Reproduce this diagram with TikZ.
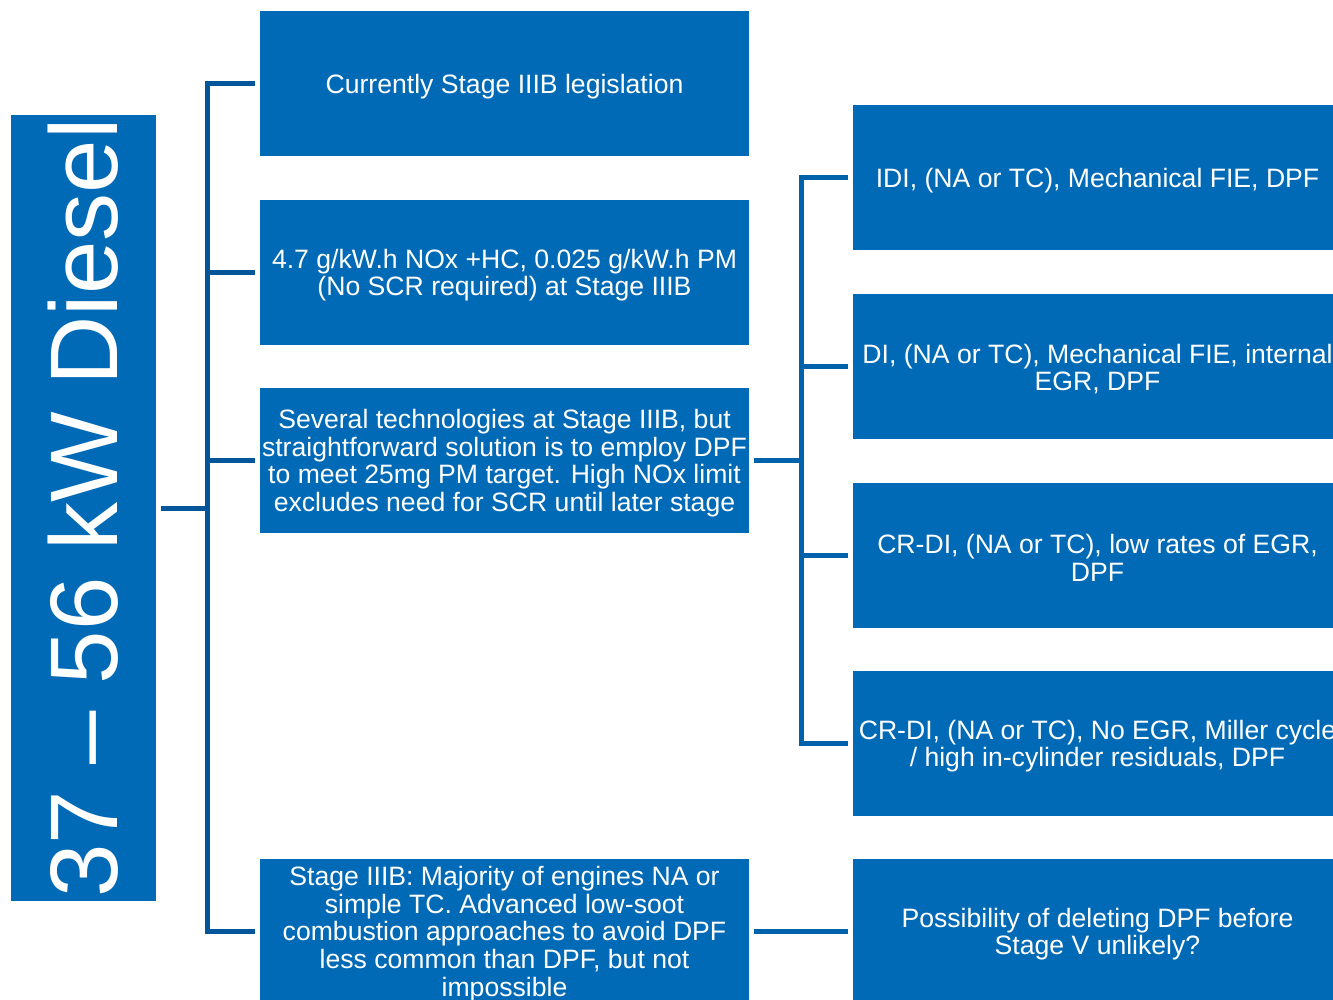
\documentclass[tikz,border=0pt]{standalone}
\usepackage{fontspec}
\setmainfont{Liberation Sans}
\definecolor{boxblue}{RGB}{0,106,182}
\definecolor{lineL}{RGB}{0,86,152}
\definecolor{lineR}{RGB}{0,98,170}
\tikzset{
  bluebox/.style={fill=boxblue, draw=none, minimum width=489pt, minimum height=145pt, inner sep=0pt},
  boxtext/.style={text=white, align=center, inner sep=0pt, font=\fontsize{26.6pt}{27.7pt}\selectfont},
  titlebox/.style={fill=boxblue, draw=none, text=white, minimum width=145pt, minimum height=786pt,
    inner sep=0pt},
  lline/.style={draw=lineL, line width=5pt},
  rline/.style={draw=lineR, line width=5pt}
}
\begin{document}
\begin{tikzpicture}[x=1pt,y=-1pt]
\useasboundingbox (0,0) rectangle (1333,1000);
\clip (0,0) rectangle (1333,1000);
\node[titlebox] (title) at (83.5,508) {};
\node[text=white, rotate=90, inner sep=0pt, font=\fontsize{96pt}{100pt}\selectfont] (titletext) at (83.5,508) {37 – 56 kW Diesel};

\node[bluebox] (b1) at (504.5,84) {};
\node[bluebox] (b2) at (504.5,272.5) {};
\node[bluebox] (b3) at (504.5,460.5) {};
\node[bluebox] (b4) at (504.5,931.5) {};
\node[bluebox] (r1) at (1097.5,178) {};
\node[bluebox] (r2) at (1097.5,366.5) {};
\node[bluebox] (r3) at (1097.5,555.5) {};
\node[bluebox] (r4) at (1097.5,743.5) {};
\node[bluebox] (r5) at (1097.5,931.5) {};

\node[boxtext] (t1) at ([yshift=-2.5pt]b1.center) {Currently Stage IIIB legislation};
\node[boxtext] (t2) at ([yshift=-2.5pt]b2.center) {4.7 g/kW.h NOx +HC, 0.025 g/kW.h PM\\(No SCR required) at Stage IIIB};
\node[boxtext] (t3) at ([yshift=-2.5pt]b3.center) {Several technologies at Stage IIIB, but\\straightforward solution is to employ DPF\\to meet 25mg PM target. High NOx limit\\excludes need for SCR until later stage};
\node[boxtext] (t4) at ([yshift=-2.5pt]b4.center) {Stage IIIB: Majority of engines NA or\\simple TC. Advanced low-soot\\combustion approaches to avoid DPF\\less common than DPF, but not\\impossible};
\node[boxtext] (u1) at ([yshift=-2.5pt]r1.center) {IDI, (NA or TC), Mechanical FIE, DPF};
\node[boxtext] (u2) at ([yshift=-2.5pt]r2.center) {DI, (NA or TC), Mechanical FIE, internal\\EGR, DPF};
\node[boxtext] (u3) at ([yshift=-2.5pt]r3.center) {CR-DI, (NA or TC), low rates of EGR,\\DPF};
\node[boxtext] (u4) at ([yshift=-2.5pt]r4.center) {CR-DI, (NA or TC), No EGR, Miller cycle\\/ high in-cylinder residuals, DPF};
\node[boxtext] (u5) at ([yshift=-2.5pt]r5.center) {Possibility of deleting DPF before\\Stage V unlikely?};

\coordinate (lx) at (207,0);
\coordinate (rx) at (801,0);

% left bracket
\draw[lline] ([xshift=5pt]title.east) -- (lx |- title.east);
\draw[lline] ([xshift=-5pt]b1.west) -| (lx |- b4.west) -- ([xshift=-5pt]b4.west);
\draw[lline] ([xshift=-5pt]b2.west) -- (lx |- b2.west);
\draw[lline] ([xshift=-5pt]b3.west) -- (lx |- b3.west);

% right bracket
\draw[rline] ([xshift=5pt]b3.east) -- (rx |- b3.east);
\draw[rline] ([xshift=-5pt]r1.west) -| (rx |- r4.west) -- ([xshift=-5pt]r4.west);
\draw[rline] ([xshift=-5pt]r2.west) -- (rx |- r2.west);
\draw[rline] ([xshift=-5pt]r3.west) -- (rx |- r3.west);
\draw[rline] ([xshift=5pt]b4.east) -- ([xshift=-5pt]r5.west);
\end{tikzpicture}
\end{document}
